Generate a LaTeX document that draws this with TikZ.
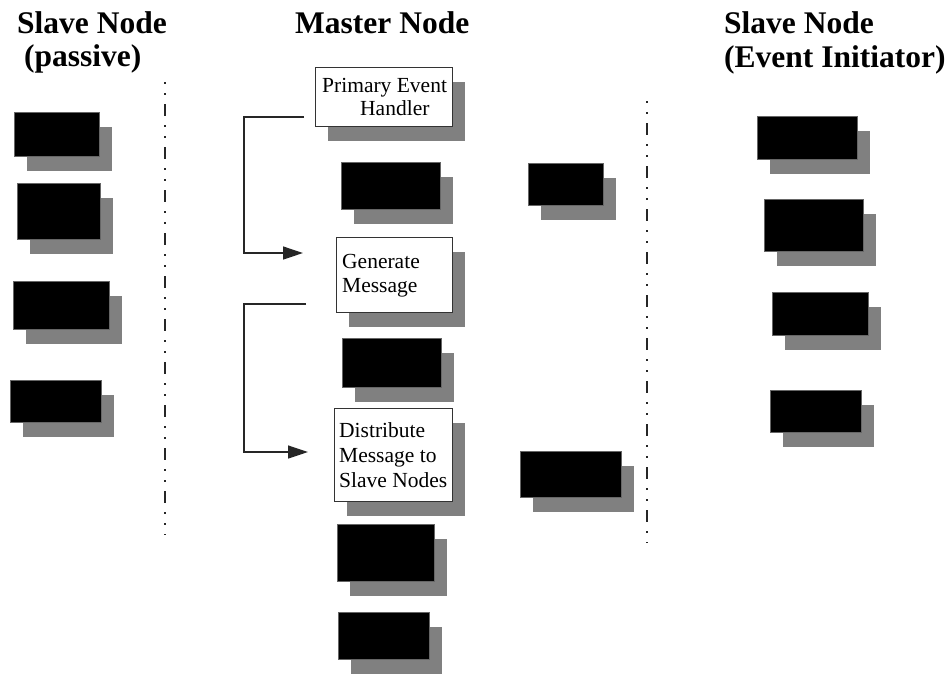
\documentclass[tikz,border=0pt]{standalone}
\usepackage{fontspec}
\setmainfont{Liberation Serif}
\usetikzlibrary{fit,arrows.meta}
\definecolor{shad}{HTML}{808080}
\newcommand\shbox[6]{%
  \fill[shad] (#3+13,#4+14.5) rectangle (#5+13,#6+14.5);
  \node[#2, fit={(#3,#4) (#5,#6)}] (#1) {};
}
\tikzset{
  blk/.style={fill=black, draw=black!60, line width=0.6pt, inner sep=0pt},
  wbox/.style={fill=white, draw=black!80, line width=1pt, inner sep=0pt},
  hdr/.style={font=\fontsize{31.5}{33}\selectfont\bfseries, anchor=base west, inner sep=0pt},
  txt/.style={font=\fontsize{21.5}{24}\selectfont, anchor=base west, inner sep=0pt},
  sepline/.style={draw=black!85, line width=1.4pt, dash pattern=on 2pt off 9pt on 2pt off 9pt on 12pt off 9pt},
  conn/.style={draw=black!85, line width=1.3pt},
  arr/.style={-{Triangle[length=20pt,width=13pt]}}
}
\begin{document}
\begin{tikzpicture}[x=1pt,y=-1pt]
\useasboundingbox (0,0) rectangle (947,673);
% headers
\node[hdr] (h1a) at (17,33) {Slave Node};
\node[hdr] (h1b) at (24,66) {(passive)};
\node[hdr] (h2) at (295,33) {Master Node};
\node[hdr] (h3a) at (724,33) {Slave Node};
\node[hdr] (h3b) at (724,67) {(Event Initiator)};
% separators
\coordinate (s1t) at (165,82); \coordinate (s1b) at (165,535);
\coordinate (s2t) at (647,101); \coordinate (s2b) at (647,543);
\draw[sepline] (s1t) -- (s1b);
\draw[sepline] (s2t) -- (s2b);
% left column
\shbox{l1}{blk}{14}{112}{99}{156}
\shbox{l2}{blk}{17}{183}{100}{239}
\shbox{l3}{blk}{13}{281}{109}{329}
\shbox{l4}{blk}{10}{380}{101}{422}
% middle column
\shbox{peh}{wbox}{315}{67}{452}{126}
\node[txt] (peh1) at (322,92) {Primary Event};
\node[txt] (peh2) at (360,115) {Handler};
\shbox{m1}{blk}{341}{162}{440}{209}
\shbox{gen}{wbox}{336}{237}{452}{312}
\node[txt] (gen1) at (342,268) {Generate};
\node[txt] (gen2) at (342,292) {Message};
\shbox{m2}{blk}{342}{338}{441}{387}
\shbox{dist}{wbox}{334}{408}{452}{501}
\node[txt] (dist1) at (339,437) {Distribute};
\node[txt] (dist2) at (339,462) {Message to};
\node[txt] (dist3) at (339,487) {Slave Nodes};
\shbox{m3}{blk}{337}{524}{434}{581}
\shbox{m4}{blk}{338}{612}{429}{659}
% middle-right
\shbox{n1}{blk}{528}{163}{603}{205}
\shbox{n2}{blk}{520}{451}{621}{497}
% right column
\shbox{r1}{blk}{757}{116}{857}{159}
\shbox{r2}{blk}{764}{199}{863}{251}
\shbox{r3}{blk}{772}{292}{868}{335}
\shbox{r4}{blk}{770}{390}{861}{432}
% connectors
\coordinate (c1a) at (304,117); \coordinate (c1b) at (303,253);
\coordinate (c2a) at (306,304); \coordinate (c2b) at (308,452);
\draw[conn,arr] (c1a) -- (244,117) |- (c1b);
\draw[conn,arr] (c2a) -- (244,304) |- (c2b);
\end{tikzpicture}
\end{document}
